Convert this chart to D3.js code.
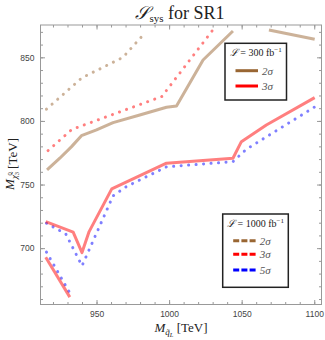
<!DOCTYPE html>
<meta charset="utf-8">
<html>
<head>
    <title>S_sys for SR1</title>
    <script src="https://cdn.jsdelivr.net/npm/d3@7"></script>
</head>
<style>
    body{ margin:0; background:#fff; }
    svg{ width:325px; height:340px; display:block; }
    .tick text{ font-family:"Liberation Sans", sans-serif; font-size:8.5px; fill:#444; }
    .tick line{ stroke:#999; stroke-width:1px; }
    .serif{ font-family:"Liberation Serif","DejaVu Serif",serif; fill:#222; }
</style>
<body>
<svg id="chart"></svg>
<script>
    // ---------- data ----------
    // 300 fb^-1, solid lines
    const brown300_a = [[915.9,761.5],[924.7,770.7],[932.8,779.8],[939.6,788.4],[950.0,792.9],[961.4,798.7],
                        [979.8,804.7],[998.2,810.7],[1005.1,811.8],[1023.4,847.9],[1044.0,870.7]]
    const brown300_b = [[1068.8,871.5],[1100.3,864.2]]
    const red300_a = [[915.0,720.9],[933.9,712.6],[940.0,696.5],[944.9,713.0],[960.5,746.6],[998.2,766.8],
                      [1044.0,770.7],[1049.8,783.7],[1067.0,796.8],[1100.3,818.3]]
    const red300_b = [[915.0,692.9],[931.6,661.5]]
    // 1000 fb^-1, dotted lines
    const brown1000 = [[915.5,809.2],[939.8,833.8],[968.1,849.9],[983.2,868.9]]
    const red1000 = [[916.6,776.7],[933.0,793.3],[995.0,819.2],[1029.6,870.7]]
    const blue1000_a = [[915.5,719.6],[928.8,711.2],[940.0,686.1],[961.4,741.1],[970.6,748.4],[998.2,763.9],
                        [1044.0,768.0],[1053.3,777.8],[1100.3,811.0]]
    const blue1000_b = [[915.5,696.9],[932.7,662.6]]

    const xMajor = [950, 1000, 1050, 1100]
    const yMajor = [700, 750, 800, 850]
    const xMinor = d3.range(920, 1105, 10)
    const yMinor = d3.range(660, 876, 10)

    const BROWN = "#996633", RED = "#ff0000", BLUE = "#0000ff"

    // ---------- layout ----------
    const svg = d3.select("#chart")
    const pL = 40.5, pR = 321.5, pT = 25, pB = 304.5

    const x = d3.scaleLinear().domain([911.4, 1105]).range([pL, pR])
    const y = d3.scaleLinear().domain([655.7, 875.4]).range([pB, pT])

    // ticks: minor first, then major, on all four sides
    function ticks(axisFn, scale, values, size, labels, tx, ty){
        const g = svg.append("g")
            .attr("transform", `translate(${tx},${ty})`)
            .call(axisFn(scale).tickValues(values).tickSizeInner(size).tickSizeOuter(0)
                .tickPadding(labels ? 6 : 0).tickFormat(labels ? d3.format("d") : ""))
        g.select(".domain").remove()
        return g
    }
    ticks(d3.axisBottom, x, xMinor, -2.5, false, 0, pB)
    ticks(d3.axisBottom, x, xMajor, -4.5, true, 0, pB)
    ticks(d3.axisTop, x, xMinor, -2.5, false, 0, pT)
    ticks(d3.axisTop, x, xMajor, -4.5, false, 0, pT)
    ticks(d3.axisLeft, y, yMinor, -2.5, false, pL, 0)
    ticks(d3.axisLeft, y, yMajor, -4.5, true, pL, 0)
    ticks(d3.axisRight, y, yMinor, -2.5, false, pR, 0)
    ticks(d3.axisRight, y, yMajor, -4.5, false, pR, 0)

    // frame
    svg.append("rect")
        .attr("x", pL).attr("y", pT)
        .attr("width", pR - pL).attr("height", pB - pT)
        .attr("fill", "none").attr("stroke", "#999").attr("stroke-width", 1)

    // ---------- curves ----------
    svg.append("clipPath").attr("id", "clip")
        .append("rect").attr("x", pL).attr("y", pT)
        .attr("width", pR - pL).attr("height", pB - pT)

    const line = d3.line().x(d => x(d[0])).y(d => y(d[1]))
    const plot = svg.append("g").attr("clip-path", "url(#clip)")

    function solid(data, color){
        plot.append("path").attr("d", line(data))
            .attr("fill", "none").attr("stroke", color).attr("stroke-opacity", 0.5)
            .attr("stroke-width", 3).attr("stroke-linejoin", "round")
    }
    function dotted(data, color){
        plot.append("path").attr("d", line(data))
            .attr("fill", "none").attr("stroke", color).attr("stroke-opacity", 0.5)
            .attr("stroke-width", 3).attr("stroke-linecap", "round")
            .attr("stroke-dasharray", "0.1 7.4")
    }
    dotted(brown1000, BROWN)
    dotted(red1000, RED)
    dotted(blue1000_a, BLUE)
    dotted(blue1000_b, BLUE)
    solid(brown300_a, BROWN)
    solid(brown300_b, BROWN)
    solid(red300_a, RED)
    solid(red300_b, RED)

    // ---------- title & axis labels ----------
    const title = svg.append("text").attr("class", "serif")
        .attr("x", 180).attr("y", 19).attr("text-anchor", "middle").style("font-size", "18px")
    title.append("tspan").style("font-style", "italic").text("𝒮")
    title.append("tspan").attr("dy", 3).style("font-size", "11px").text("sys")
    title.append("tspan").attr("dy", -3).text(" for SR1")

    const xl = svg.append("text").attr("class", "serif")
        .attr("x", 181).attr("y", 332).attr("text-anchor", "middle").style("font-size", "13px")
    xl.append("tspan").style("font-style", "italic").text("M")
    xl.append("tspan").attr("dy", 3).style("font-size", "9px").style("font-style", "italic").text("q̃")
    xl.append("tspan").attr("dy", 2).style("font-size", "6.5px").style("font-style", "italic").text("L")
    xl.append("tspan").attr("dy", -5).text(" [TeV]")

    const yl = svg.append("text").attr("class", "serif")
        .attr("transform", "translate(13.5,164) rotate(-90)")
        .attr("text-anchor", "middle").style("font-size", "13px")
    yl.append("tspan").style("font-style", "italic").text("M")
    yl.append("tspan").attr("dy", 3).style("font-size", "9px").style("font-style", "italic").text("χ̃")
    yl.append("tspan").attr("dy", 2).style("font-size", "6.5px").text("3")
    yl.append("tspan").attr("dx", -3.5).attr("dy", -7).style("font-size", "6.5px").text("0")
    yl.append("tspan").attr("dy", 5).text(" [TeV]")

    // ---------- legends ----------
    function legend(x0, y0, w, h, lumi, items, dashed){
        const g = svg.append("g")
        g.append("rect").attr("x", x0).attr("y", y0).attr("width", w).attr("height", h)
            .attr("fill", "#fff").attr("stroke", "#222").attr("stroke-width", 1.5)
        const t = g.append("text").attr("class", "serif")
            .attr("x", x0 + w / 2).attr("y", y0 + 13).attr("text-anchor", "middle").style("font-size", "10px")
        t.append("tspan").style("font-style", "italic").text("ℒ")
        t.append("tspan").text(` = ${lumi} fb`)
        t.append("tspan").attr("dy", -4).style("font-size", "7px").text("−1")
        items.forEach((it, i) => {
            const ly = y0 + it.dy
            g.append("line").attr("x1", x0 + 10.5).attr("x2", x0 + 33)
                .attr("y1", ly).attr("y2", ly)
                .attr("stroke", it.color).attr("stroke-width", 3)
                .attr("stroke-dasharray", dashed ? "6 2.2" : null)
            g.append("text").attr("class", "serif")
                .attr("x", x0 + 37).attr("y", ly + 4).style("font-size", "11px")
                .style("font-style", "italic").style("fill", "#555").text(it.label)
        })
    }
    const sig300 = [{label: "2σ", color: BROWN, dy: 27.4}, {label: "3σ", color: RED, dy: 42.7}]
    const sig1000 = [{label: "2σ", color: BROWN, dy: 26.7}, {label: "3σ", color: RED, dy: 40.3},
                     {label: "5σ", color: BLUE, dy: 56}]
    legend(225, 43.3, 61.5, 56.7, 300, sig300, false)
    legend(222.7, 214, 65.6, 73.3, 1000, sig1000, true)
</script>
</body>
</html>
